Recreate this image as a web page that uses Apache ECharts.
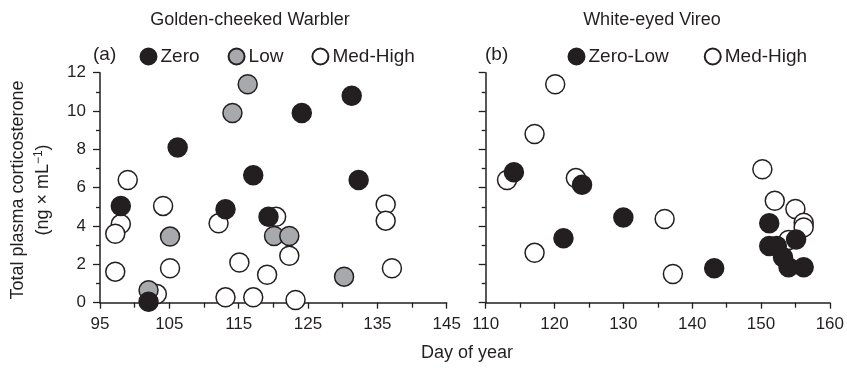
<!DOCTYPE html>
<html>
<head>
<meta charset="utf-8">
<script src="https://cdn.jsdelivr.net/npm/echarts@6/dist/echarts.min.js"></script>
<style>
  html, body { margin: 0; padding: 0; background: #fff; }
  #chart { width: 847px; height: 369px; }
</style>
</head>
<body>
<div id="chart"></div>
<script>
// (a) Golden-cheeked Warbler: [day of year, corticosterone]
const warblerZero = [[98.0, 5.05], [106.2, 8.1], [117.1, 6.65], [124.1, 9.9], [131.3, 10.8],
  [132.3, 6.4], [113.1, 4.87], [119.3, 4.48], [102.0, 0.05]];
const warblerLow = [[114.1, 9.9], [116.3, 11.4], [105.1, 3.45], [102.0, 0.65], [120.1, 3.48],
  [122.3, 3.48], [130.2, 1.36]];
const warblerMedHigh = [[99.0, 6.4], [98.0, 4.1], [97.2, 3.6], [97.2, 1.62], [104.1, 5.05],
  [105.1, 1.8], [103.2, 0.45], [112.1, 4.14], [115.1, 2.1], [113.1, 0.28], [117.1, 0.28],
  [120.4, 4.48], [119.1, 1.46], [122.3, 2.45], [123.2, 0.14], [136.2, 5.13], [136.2, 4.28],
  [137.1, 1.8]];

// (b) White-eyed Vireo
const vireoZeroLow = [[114.1, 6.8], [124.0, 6.15], [121.3, 3.36], [130.0, 4.45], [143.2, 1.8],
  [151.2, 4.14], [151.2, 2.96], [152.3, 2.96], [153.2, 2.37], [154.0, 1.85], [156.2, 1.85],
  [155.1, 3.3]];
const vireoMedHigh = [[113.1, 6.4], [120.1, 11.4], [117.1, 8.8], [123.1, 6.5], [117.1, 2.6],
  [136.0, 4.37], [137.2, 1.5], [150.2, 6.96], [152.0, 5.32], [155.0, 4.89], [156.2, 4.17],
  [156.2, 3.93], [154.0, 3.27]];

const ink = '#231f20';
const font = 'Liberation Sans, Arial, sans-serif';

function xAxisFor(grid, min, max) {
  return {
    type: 'value', gridIndex: grid, min: min, max: max, interval: 10,
    axisLine: { show: true, onZero: false, lineStyle: { color: ink, width: 1.5 } },
    axisTick: { show: true, length: 6, lineStyle: { color: ink, width: 1.3 } },
    minorTick: { show: true, splitNumber: 2, length: 5, lineStyle: { color: ink, width: 1.3 } },
    axisLabel: { color: ink, fontSize: 17, fontFamily: font, margin: 13 },
    splitLine: { show: false }
  };
}
function yAxisFor(grid, labels) {
  return {
    type: 'value', gridIndex: grid, min: 0, max: 12, interval: 2,
    axisLine: { show: true, onZero: false, lineStyle: { color: ink, width: 1.5 } },
    axisTick: { show: true, length: 7, lineStyle: { color: ink, width: 1.3 } },
    minorTick: { show: true, splitNumber: 2, length: 4, lineStyle: { color: ink, width: 1.3 } },
    axisLabel: { show: labels, color: ink, fontSize: 17, fontFamily: font, margin: 14 },
    splitLine: { show: false }
  };
}
function dots(name, data, fill, xi) {
  return {
    name: name, type: 'scatter', xAxisIndex: xi, yAxisIndex: xi, data: data,
    symbol: 'circle', symbolSize: 19,
    itemStyle: { color: fill, borderColor: ink, borderWidth: 1.5, opacity: 1 },
    emphasis: { disabled: true }, animation: false
  };
}

const legendBase = {
  orient: 'horizontal', padding: 0, itemWidth: 16, itemHeight: 16, icon: 'circle',
  textStyle: { color: ink, fontSize: 19, fontFamily: font, padding: [0, 0, 0, -1] },
  selectedMode: false
};

const chart = echarts.init(document.getElementById('chart'), null, { renderer: 'canvas' });
chart.setOption({
  backgroundColor: '#fff',
  animation: false,
  grid: [
    { left: 100, top: 72.7, width: 346.7, height: 230 },
    { left: 485.7, top: 72.7, width: 347.6, height: 230 }
  ],
  xAxis: [xAxisFor(0, 95, 145), xAxisFor(1, 110, 160)],
  yAxis: [yAxisFor(0, true), yAxisFor(1, false)],
  legend: [
    Object.assign({}, legendBase, { left: 139.5, top: 47, itemGap: 28, data: ['Zero', 'Low', 'Med-High'] }),
    Object.assign({}, legendBase, { left: 567.5, top: 47, itemGap: 35, data: ['Zero-Low', 'Med-High'] })
  ],
  series: [
    dots('Med-High', warblerMedHigh, '#ffffff', 0),
    dots('Low', warblerLow, '#a7a9ac', 0),
    dots('Zero', warblerZero, ink, 0),
    dots('Med-High', vireoMedHigh, '#ffffff', 1),
    dots('Zero-Low', vireoZeroLow, ink, 1)
  ],
  graphic: [
    { type: 'text', x: 250, y: 20, style: { text: 'Golden-cheeked Warbler', fill: ink, font: '18px ' + font, align: 'center', verticalAlign: 'middle' } },
    { type: 'text', x: 652, y: 20, style: { text: 'White-eyed Vireo', fill: ink, font: '18px ' + font, align: 'center', verticalAlign: 'middle' } },
    { type: 'text', x: 93, y: 55, style: { text: '(a)', fill: ink, font: '19px ' + font, align: 'left', verticalAlign: 'middle' } },
    { type: 'text', x: 485, y: 55, style: { text: '(b)', fill: ink, font: '19px ' + font, align: 'left', verticalAlign: 'middle' } },
    { type: 'text', x: 467, y: 353, style: { text: 'Day of year', fill: ink, font: '18px ' + font, align: 'center', verticalAlign: 'middle' } },
    { type: 'text', x: 18, y: 190, rotation: Math.PI / 2,
      style: { text: 'Total plasma corticosterone', fill: ink, font: '18px ' + font, align: 'center', verticalAlign: 'middle' } },
    { type: 'text', x: 43, y: 190, rotation: Math.PI / 2,
      style: {
        text: '(ng × mL{sup|−1})', fill: ink, font: '18px ' + font, align: 'center', verticalAlign: 'middle',
        rich: { sup: { fontSize: 12, fontFamily: font, fill: ink, padding: [0, 0, 9, 0] } }
      } }
  ]
});
</script>
</body>
</html>
